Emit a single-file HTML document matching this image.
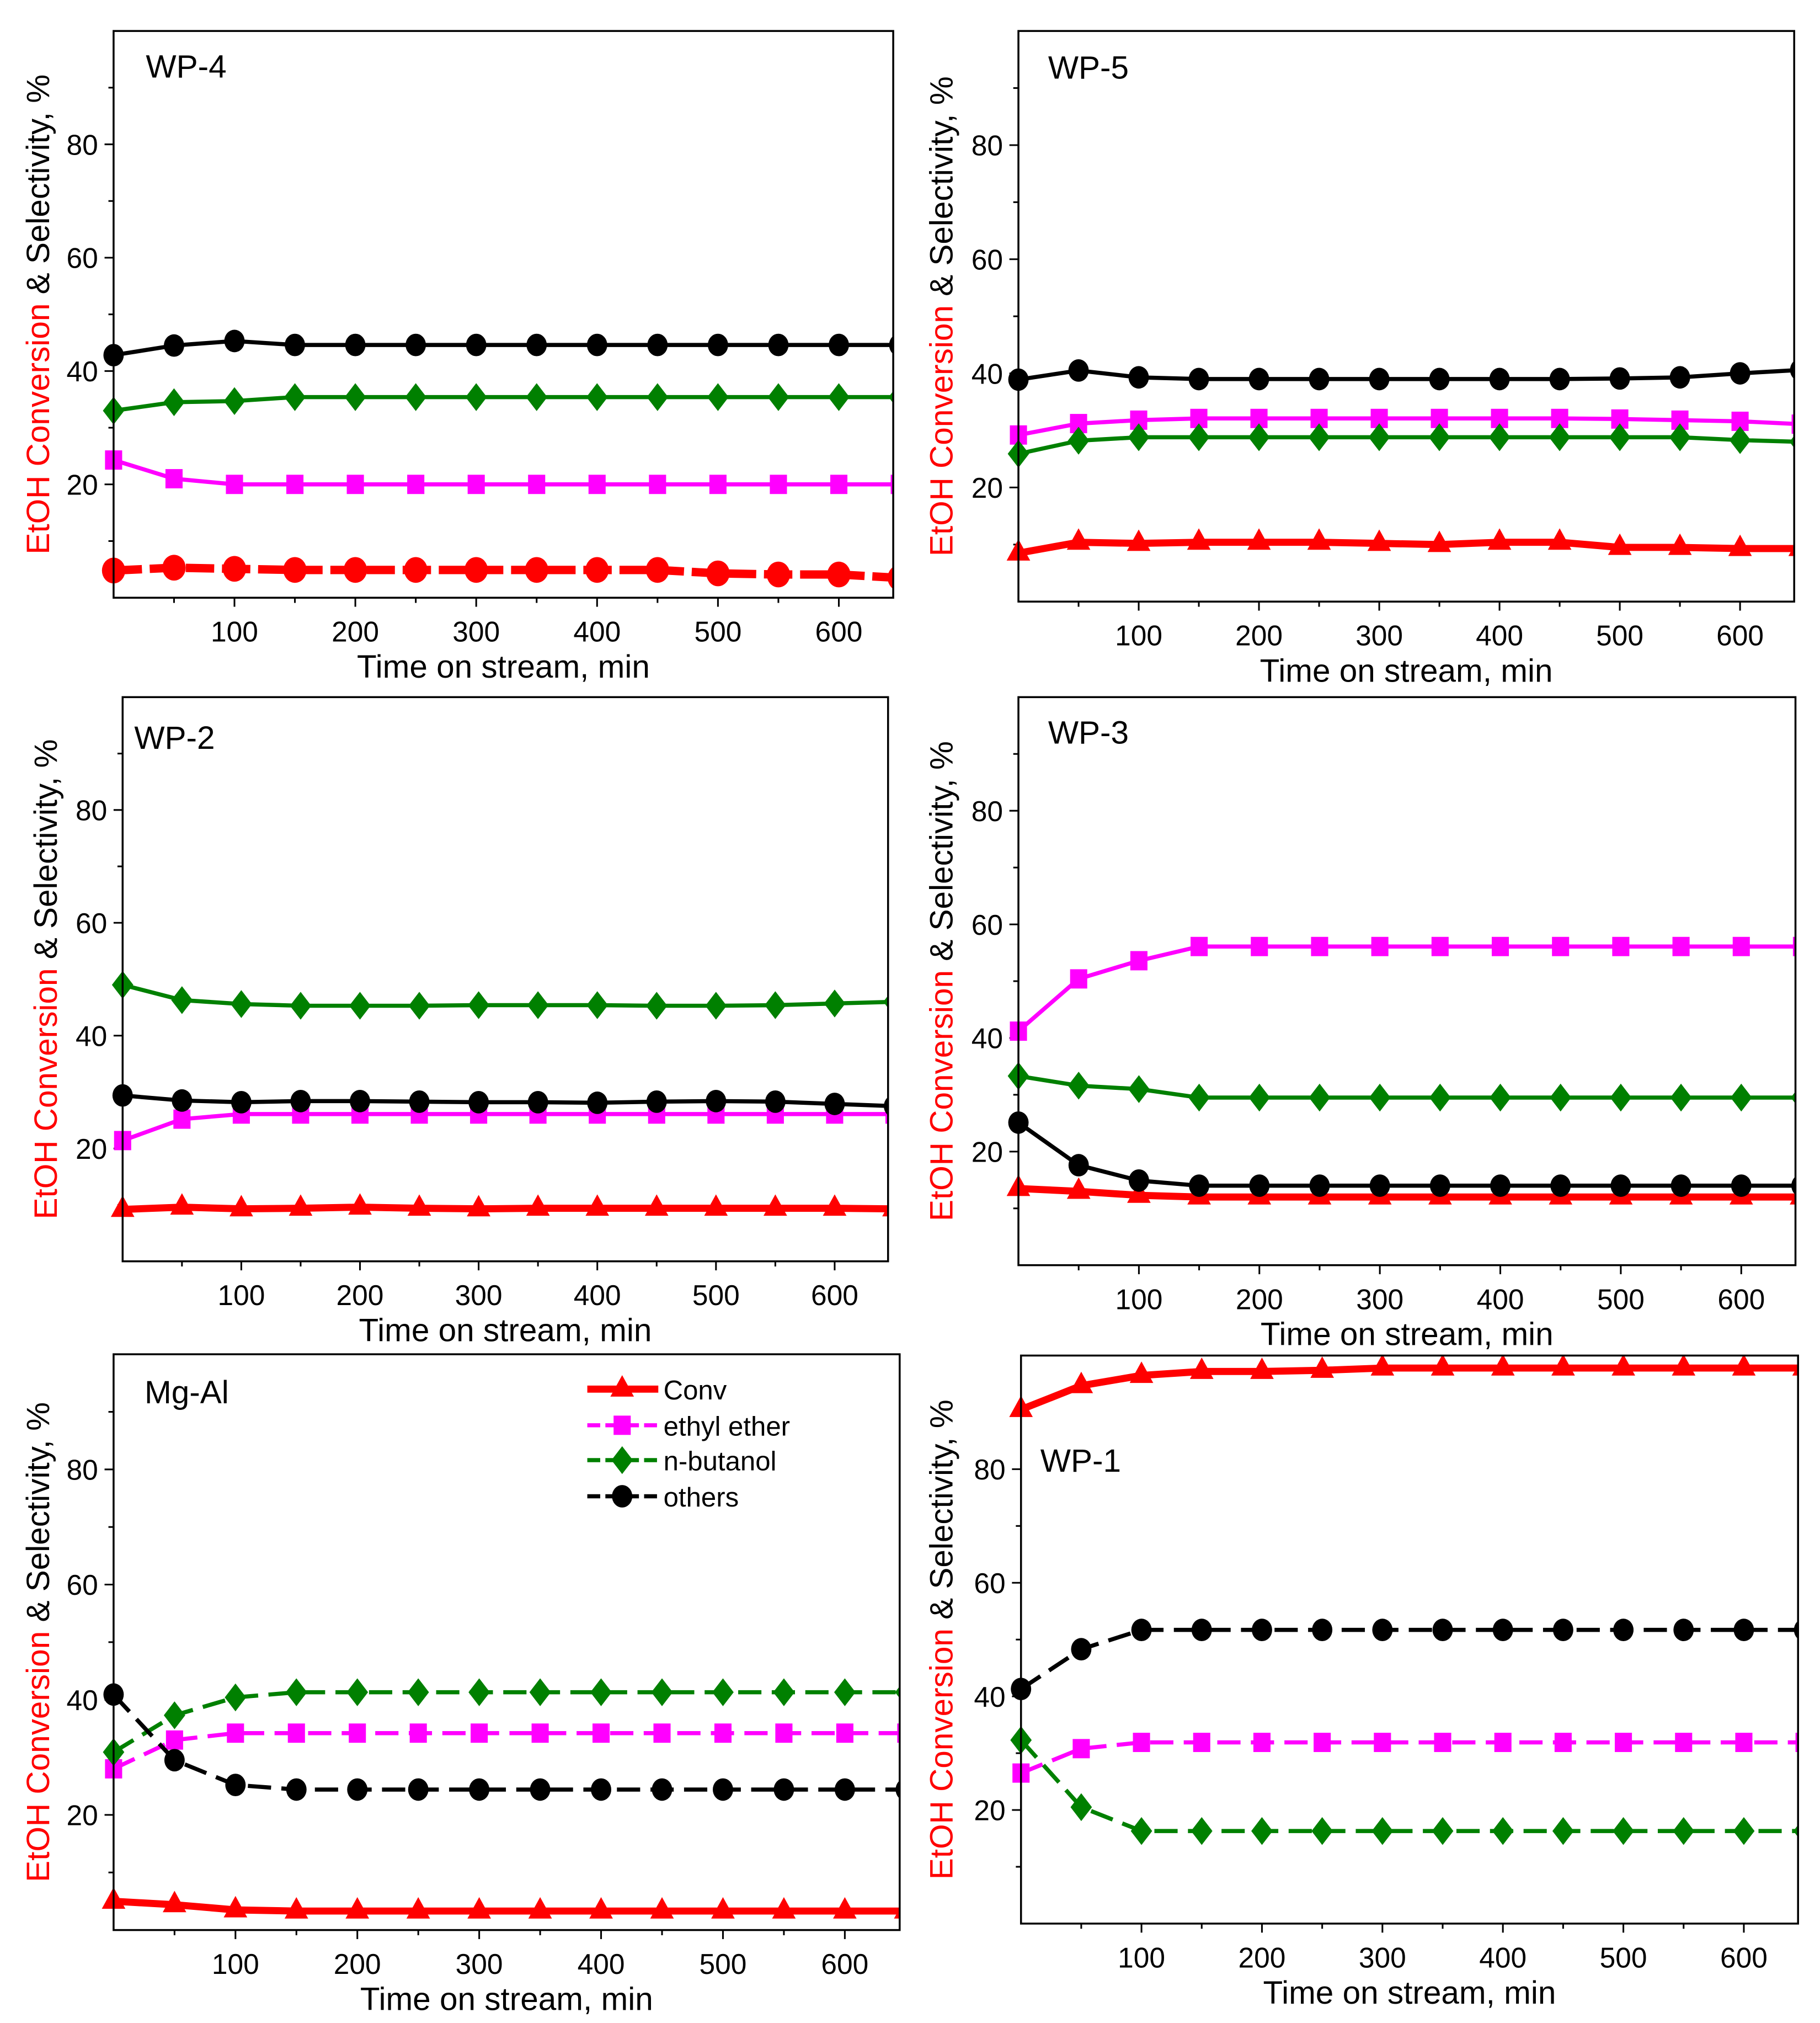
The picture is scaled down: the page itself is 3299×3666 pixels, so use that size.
<!DOCTYPE html>
<html><head><meta charset="utf-8"><style>
html,body{margin:0;padding:0;background:#fff;}
svg{display:block;}
text{font-family:"Liberation Sans Narrow","Liberation Sans",sans-serif;}
</style></head><body>
<svg id="fig" width="3299" height="3666" viewBox="0 0 1410 1567" preserveAspectRatio="none" xmlns="http://www.w3.org/2000/svg"></svg>
<script>
const xs = [0,50,100,150,200,250,300,350,400,450,500,550,600,650];
const xTicks = [100,200,300,400,500,600];
const yTicks = [20,40,60,80];
const seriesNames = ["Conv","ethyl ether","n-butanol","others"];

const wp4Conv  = [4.8,5.3,5.1,4.9,4.9,4.9,4.9,4.9,4.9,4.9,4.3,4.1,4.1,3.5];
const wp4Ether = [24.3,21,20,20,20,20,20,20,20,20,20,20,20,20];
const wp4Buta  = [33,34.5,34.7,35.4,35.4,35.4,35.4,35.4,35.4,35.4,35.4,35.4,35.4,35.4];
const wp4Oth   = [42.8,44.5,45.3,44.6,44.6,44.6,44.6,44.6,44.6,44.6,44.6,44.6,44.6,44.6];

const wp5Conv  = [8.5,10.4,10.2,10.4,10.4,10.4,10.2,10.0,10.4,10.4,9.5,9.5,9.3,9.3];
const wp5Ether = [29.2,31.2,31.8,32.1,32.1,32.1,32.1,32.1,32.1,32.1,32,31.8,31.6,31.1];
const wp5Buta  = [25.9,28.2,28.8,28.8,28.8,28.8,28.8,28.8,28.8,28.8,28.8,28.8,28.3,28];
const wp5Oth   = [38.9,40.5,39.3,39,39,39,39,39,39,39,39.1,39.3,40,40.6];

const wp2Conv  = [9.2,9.6,9.3,9.4,9.6,9.4,9.3,9.4,9.4,9.4,9.4,9.4,9.4,9.3];
const wp2Ether = [21.4,25.2,26.1,26.1,26.1,26.1,26.1,26.1,26.1,26.1,26.1,26.1,26.1,26.1];
const wp2Buta  = [49,46.3,45.6,45.3,45.3,45.3,45.4,45.4,45.4,45.3,45.3,45.4,45.7,46];
const wp2Oth   = [29.4,28.5,28.2,28.4,28.4,28.3,28.2,28.2,28.1,28.3,28.4,28.3,27.9,27.5];

const wp3Conv  = [13.5,13,12.3,12,12,12,12,12,12,12,12,12,12,12];
const wp3Ether = [41.2,50.4,53.6,56.1,56.1,56.1,56.1,56.1,56.1,56.1,56.1,56.1,56.1,56.1];
const wp3Buta  = [33.3,31.6,31,29.5,29.5,29.5,29.5,29.5,29.5,29.5,29.5,29.5,29.5,29.5];
const wp3Oth   = [25.1,17.6,14.9,14,14,14,14,14,14,14,14,14,14,14];

const mgConv  = [5,4.4,3.5,3.3,3.3,3.3,3.3,3.3,3.3,3.3,3.3,3.3,3.3,3.3];
const mgEther = [28,33,34.2,34.2,34.2,34.2,34.2,34.2,34.2,34.2,34.2,34.2,34.2,34.2];
const mgButa  = [30.9,37.3,40.4,41.3,41.3,41.3,41.3,41.3,41.3,41.3,41.3,41.3,41.3,41.3];
const mgOth   = [40.9,29.5,25.2,24.4,24.4,24.4,24.4,24.4,24.4,24.4,24.4,24.4,24.4,24.4];

const wp1Conv  = [90.5,94.7,96.5,97.2,97.2,97.4,97.8,97.8,97.8,97.8,97.8,97.8,97.8,97.8];
const wp1Ether = [26.5,30.8,31.9,31.9,31.9,31.9,31.9,31.9,31.9,31.9,31.9,31.9,31.9,31.9];
const wp1Buta  = [32.3,20.5,16.3,16.3,16.3,16.3,16.3,16.3,16.3,16.3,16.3,16.3,16.3,16.3];
const wp1Oth   = [41.3,48.3,51.7,51.7,51.7,51.7,51.7,51.7,51.7,51.7,51.7,51.7,51.7,51.7];

const NS="http://www.w3.org/2000/svg";
const svg=document.getElementById('fig');
function mk(tag,attrs,parent){const e=document.createElementNS(NS,tag);for(const k in attrs)e.setAttribute(k,attrs[k]);(parent||svg).appendChild(e);return e;}

const panels=[
 {id:"wp-4",title:"WP-4",L:88,R:692,T:24,B:463,xmax:645,tx:113,ty:60,convMarker:"circle",dash:false,data:[wp4Conv,wp4Ether,wp4Buta,wp4Oth],ylx:30},
 {id:"wp-5",title:"WP-5",L:789,R:1390,T:24,B:466,xmax:645,tx:812,ty:61,convMarker:"tri",dash:false,data:[wp5Conv,wp5Ether,wp5Buta,wp5Oth],ylx:730},
 {id:"wp-2",title:"WP-2",L:95,R:688,T:540,B:977,xmax:645,tx:104,ty:580,convMarker:"tri",dash:false,data:[wp2Conv,wp2Ether,wp2Buta,wp2Oth],ylx:36},
 {id:"wp-3",title:"WP-3",L:789,R:1391,T:540,B:980,xmax:645,tx:812,ty:576,convMarker:"tri",dash:false,data:[wp3Conv,wp3Ether,wp3Buta,wp3Oth],ylx:730},
 {id:"mg-al",title:"Mg-Al",L:88,R:697,T:1049,B:1495,xmax:645,tx:112,ty:1087,convMarker:"tri",dash:true,data:[mgConv,mgEther,mgButa,mgOth],ylx:30,legend:true},
 {id:"wp-1",title:"WP-1",L:791,R:1393,T:1050,B:1490,xmax:645,tx:806,ty:1140,convMarker:"tri",dash:true,data:[wp1Conv,wp1Ether,wp1Buta,wp1Oth],ylx:730}
];
const colors=["#ff0000","#ff00ff","#008000","#000000"];
const markers=["tri","sq","dia","circle"];

function marker(g,type,x,y,c,s){
 let m;
 if(type==="circle") m=mk('ellipse',{cx:x,cy:y,rx:s*0.95,ry:s*1.05,fill:c},g);
 else if(type==="sq") m=mk('rect',{x:x-s*0.8,y:y-s*0.9,width:s*1.6,height:s*1.8,fill:c},g);
 else if(type==="dia") m=mk('polygon',{points:`${x},${y-s*1.3} ${x+s},${y} ${x},${y+s*1.3} ${x-s},${y}`,fill:c},g);
 else m=mk('polygon',{points:`${x},${y-s*1.3} ${x+s*1.1},${y+s*0.7} ${x-s*1.1},${y+s*0.7}`,fill:c},g);
 return m;
}

panels.forEach(p=>{
 const g=mk('g',{});
 
 
 const sx=v=>p.L+(v/p.xmax)*(p.R-p.L);
 const sy=v=>p.B-(v/100)*(p.B-p.T);
 const clipId='clip-'+p.id;
 const cp=mk('clipPath',{id:clipId},g);
 mk('rect',{x:p.L-12,y:p.T,width:p.R-p.L+12,height:p.B-p.T+12},cp);
 const tg=mk('g',{stroke:'#000','stroke-width':1.3},g);
 
 
 for(let v=10;v<100;v+=10){const y=sy(v);mk('line',{x1:p.L-(v%20===0?7:4),x2:p.L,y1:y,y2:y},tg);}
 for(let v=50;v<=p.xmax;v+=50){const x=sx(v);mk('line',{x1:x,x2:x,y1:p.B,y2:p.B+(v%100===0?7:4)},tg);}
 yTicks.forEach(v=>{const t=mk('text',{x:p.L-12,y:sy(v)+8,'text-anchor':'end','font-size':22},g);t.textContent=v;
  });
 xTicks.forEach(v=>{const t=mk('text',{x:sx(v),y:p.B+34,'text-anchor':'middle','font-size':22},g);t.textContent=v;
  });
 const xl=mk('text',{x:(p.L+p.R)/2,y:p.B+62,'text-anchor':'middle','font-size':25},g);xl.textContent="Time on stream, min";
 
 const cy=(p.T+p.B)/2;
 const yl=mk('text',{x:p.ylx,y:cy,'text-anchor':'middle','font-size':25,transform:`rotate(-90 ${p.ylx} ${cy})`,dy:8},g);
 
 const a=mk('tspan',{fill:'#ff0000'},yl);a.textContent="EtOH Conversion";
 const b=mk('tspan',{fill:'#000'},yl);b.textContent=" & Selectivity, %";
 const sg=mk('g',{'clip-path':`url(#${clipId})`},g);
 p.data.forEach((vals,si)=>{
  const c=colors[si];
  const pts=vals.map((v,i)=>sx(xs[i])+','+sy(v)).join(' ');
  const line=mk('polyline',{points:pts,fill:'none',stroke:c,'stroke-width':si===0?(p.id==="wp-4"?6.5:5.5):3.2,'stroke-linejoin':'round'},sg);
  if(p.dash && si>0) line.setAttribute('stroke-dasharray','18 8');
  if(si===0 && p.id==="wp-4") line.setAttribute('stroke-dasharray','22 6');
  
  
  const mt=si===0?p.convMarker:markers[si];
  const ms=(si===0&&p.id==="wp-4")?9.5:8.3;
  vals.forEach((v,i)=>{const m=marker(sg,mt,sx(xs[i]),sy(v),c,ms);
   
   });
 });
 const fr=mk('rect',{x:p.L,y:p.T,width:p.R-p.L,height:p.B-p.T,fill:'none',stroke:'#000','stroke-width':1.5},g);
 
 const tt=mk('text',{x:p.tx,y:p.ty,'font-size':25},g);tt.textContent=p.title;
 
 if(p.legend){
  const lg=mk('g',{},g);
  
  const ly=[1076,1104,1131,1159];
  seriesNames.forEach((n,si)=>{
   const e=mk('g',{},lg);
   
   
   const ln=mk('line',{x1:455,x2:510,y1:ly[si],y2:ly[si],stroke:colors[si],'stroke-width':si===0?5.5:3.2},e);
   if(si>0) ln.setAttribute('stroke-dasharray','10 4 26 4 10');
   marker(e,markers[si],482,ly[si],colors[si],8.3);
   const t=mk('text',{x:514,y:ly[si]+8,'font-size':21},e);t.textContent=n;
  });
 }
});
</script>
</body></html>
